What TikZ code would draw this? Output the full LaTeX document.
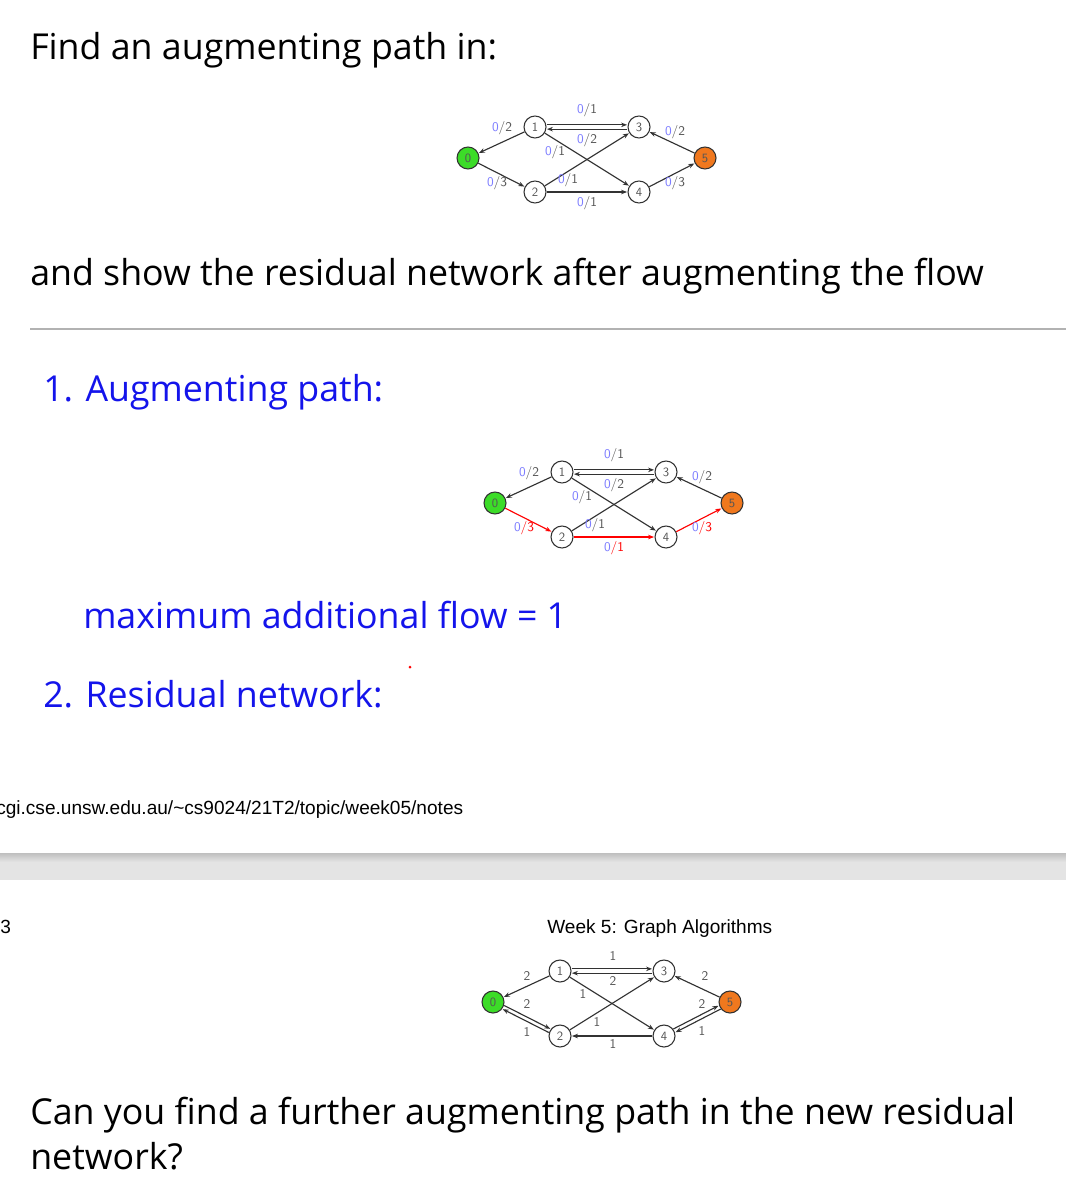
\documentclass[tikz,border=0pt]{standalone}
\usepackage{fontspec}
\setmainfont{Open Sans}
\newfontfamily\arialf{Liberation Sans}
\usetikzlibrary{arrows.meta,calc}
\definecolor{myblue}{RGB}{20,20,235}
\definecolor{lblue}{RGB}{125,125,255}
\definecolor{lgray}{RGB}{85,85,85}
\definecolor{egray}{RGB}{50,50,50}
\definecolor{ngreen}{RGB}{60,220,40}
\definecolor{norange}{RGB}{240,120,30}
\definecolor{bandgray}{RGB}{228,228,228}
\newcommand\fl[2]{\textcolor{lblue}{#1}/#2}
\newcommand\flr[2]{\textcolor{lblue}{#1}\textcolor{red}{/#2}}
\tikzset{
  gn/.style={circle,draw=egray,fill=white,line width=0.8pt,minimum size=16.5pt,inner sep=0pt,
    font=\sffamily\fontsize{9.5}{9.5}\selectfont,text=lgray},
  ed/.style={draw=egray,line width=0.85pt,-{Stealth[length=4.5pt,width=3.4pt]},shorten >=0.3pt},
  edr/.style={ed,draw=red,-{Stealth[length=4.5pt,width=3.4pt,fill=red]}},
  el/.style={font=\sffamily\fontsize{10}{10}\selectfont,text=lgray,inner sep=0pt},
  big/.style={anchor=base west,inner sep=0pt,font=\fontsize{26.8}{32}\selectfont},
  arl/.style={anchor=base west,inner sep=0pt,font=\arialf\fontsize{14.3}{16}\selectfont},
}
\newcommand\gnodes[1]{%
  \node[gn,fill=ngreen] (#1n0) at (0,0) {0};
  \node[gn] (#1n1) at (67,-31) {1};
  \node[gn] (#1n3) at (171,-31) {3};
  \node[gn] (#1n2) at (67,34) {2};
  \node[gn] (#1n4) at (171,34) {4};
  \node[gn,fill=norange] (#1n5) at (237,0) {5};
}
\begin{document}
\begin{tikzpicture}[x=0.75pt,y=-0.75pt]
\useasboundingbox (0,0) rectangle (1066,1198);
\fill[white] (0,0) rectangle (1066,1198);
% gray band
\fill[bandgray] (0,853) rectangle (1066,880);
\shade[top color=black!25,bottom color=bandgray] (0,853) rectangle (1066,862);

\node[big] (t1) at (30,60) {Find an augmenting path in:};
\node[big] (t2) at (30,285) {and show the residual network after augmenting the flow};
\draw[black!30,line width=0.8pt] (30,329) -- (1066,329);
\node[big,text=myblue] (t3) at (43,401) {1. Augmenting path:};
\node[big,text=myblue] (t4) at (83,628) {maximum additional flow = 1};
\node[big,text=myblue] (t5) at (43,707) {2. Residual network:};
\fill[red] (410,667) circle (1.5);
\node[arl] (url) at (-4,814) {cgi.cse.unsw.edu.au/\textasciitilde cs9024/21T2/topic/week05/notes};
\node[arl] (pg) at (0,933) {3};
\node[arl] (wk) at (547,933) {Week 5: Graph Algorithms};
\node[big] (t6) at (30,1124) {Can you find a further augmenting path in the new residual};
\node[big] (t7) at (30,1169) {network?};

% graph 1
\begin{scope}[shift={(468,158)}]
\gnodes{a}
\draw[ed] (an1) -- (an0);
\draw[ed] (an0) -- (an2);
\draw[ed] ([yshift=1.6pt]an1.east) -- ([yshift=1.6pt]an3.west);
\draw[ed] ([yshift=-1.6pt]an3.west) -- ([yshift=-1.6pt]an1.east);
\draw[ed] (an1) -- (an4);
\draw[ed] (an2) -- (an3);
\draw[ed] (an2) -- (an4);
\draw[ed] (an5) -- (an3);
\draw[ed] (an4) -- (an5);
\node[el] (al1) at (119,-48) {\fl{0}{1}};
\node[el] (al2) at (34,-30) {\fl{0}{2}};
\node[el] (al3) at (119,-18) {\fl{0}{2}};
\node[el] (al4) at (87,-6) {\fl{0}{1}};
\node[el] (al5) at (100,22) {\fl{0}{1}};
\node[el] (al6) at (29,25) {\fl{0}{3}};
\node[el] (al7) at (119,45) {\fl{0}{1}};
\node[el] (al8) at (207,-26) {\fl{0}{2}};
\node[el] (al9) at (207,25) {\fl{0}{3}};
\end{scope}

% graph 2
\begin{scope}[shift={(495,503)}]
\gnodes{b}
\draw[ed] (bn1) -- (bn0);
\draw[edr] (bn0) -- (bn2);
\draw[ed] ([yshift=1.6pt]bn1.east) -- ([yshift=1.6pt]bn3.west);
\draw[ed] ([yshift=-1.6pt]bn3.west) -- ([yshift=-1.6pt]bn1.east);
\draw[ed] (bn1) -- (bn4);
\draw[ed] (bn2) -- (bn3);
\draw[edr] (bn2) -- (bn4);
\draw[ed] (bn5) -- (bn3);
\draw[edr] (bn4) -- (bn5);
\node[el] (bl1) at (119,-48) {\fl{0}{1}};
\node[el] (bl2) at (34,-30) {\fl{0}{2}};
\node[el] (bl3) at (119,-18) {\fl{0}{2}};
\node[el] (bl4) at (87,-6) {\fl{0}{1}};
\node[el] (bl5) at (100,22) {\fl{0}{1}};
\node[el] (bl6) at (29,25) {\flr{0}{3}};
\node[el] (bl7) at (119,45) {\flr{0}{1}};
\node[el] (bl8) at (207,-26) {\fl{0}{2}};
\node[el] (bl9) at (207,25) {\flr{0}{3}};
\end{scope}

% graph 3
\begin{scope}[shift={(493,1002)}]
\gnodes{c}
\draw[ed] (cn1) -- (cn0);
\draw[ed,transform canvas={xshift=0.7pt,yshift=1.3pt}] (cn0) -- (cn2);
\draw[ed,transform canvas={xshift=-0.7pt,yshift=-1.3pt}] (cn2) -- (cn0);
\draw[ed] ([yshift=1.6pt]cn1.east) -- ([yshift=1.6pt]cn3.west);
\draw[ed] ([yshift=-1.6pt]cn3.west) -- ([yshift=-1.6pt]cn1.east);
\draw[ed] (cn1) -- (cn4);
\draw[ed] (cn2) -- (cn3);
\draw[ed] (cn4) -- (cn2);
\draw[ed] (cn5) -- (cn3);
\draw[ed,transform canvas={xshift=-0.7pt,yshift=1.3pt}] (cn4) -- (cn5);
\draw[ed,transform canvas={xshift=0.7pt,yshift=-1.3pt}] (cn5) -- (cn4);
\node[el] (cl1) at (120,-46) {1};
\node[el] (cl2) at (34,-26) {2};
\node[el] (cl3) at (120,-21) {2};
\node[el] (cl4) at (90,-8) {1};
\node[el] (cl5) at (34,2) {2};
\node[el] (cl6) at (34,30) {1};
\node[el] (cl7) at (104,20) {1};
\node[el] (cl8) at (120,42) {1};
\node[el] (cl9) at (212,-26) {2};
\node[el] (cl10) at (209,2) {2};
\node[el] (cl11) at (209,29) {1};
\end{scope}
\end{tikzpicture}
\end{document}
